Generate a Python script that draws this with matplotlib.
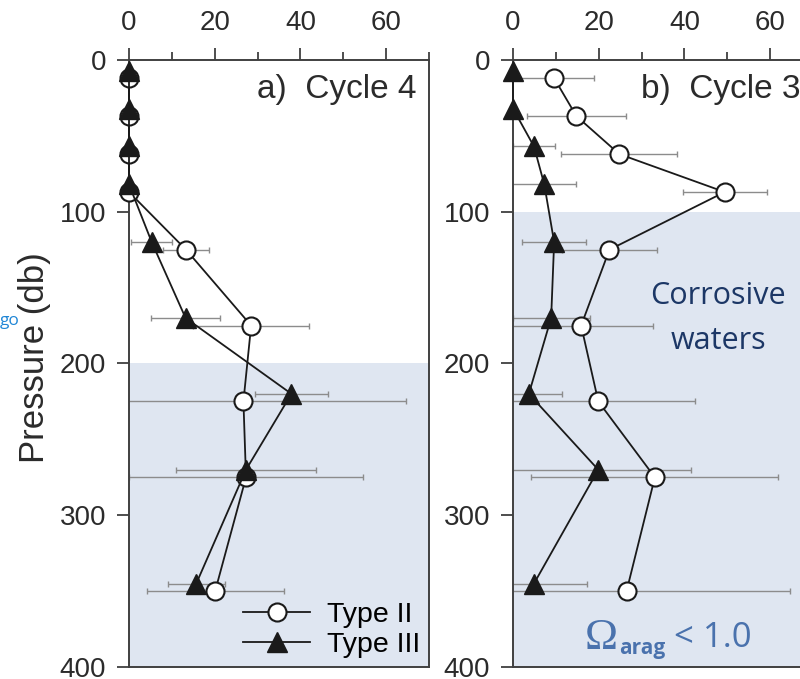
import numpy as np
import matplotlib
matplotlib.use("Agg")
import matplotlib.pyplot as plt
from matplotlib.ticker import MultipleLocator

# depths (db) of the two sample types
depth_ii = [12, 37, 62, 87, 125, 175, 225, 275, 350]
depth_iii = [7, 32, 57, 82, 120, 170, 220, 270, 345]

# panel a) Cycle 4
cycle4_ii = [0, 0, 0, 0, 13.3, 28.5, 26.7, 27.3, 20.1]
cycle4_ii_err = [0, 0, 0, 0, 5.4, 13.5, 38, 27.3, 16]
cycle4_iii = [0, 0, 0, 0, 5.3, 13.2, 37.9, 27.3, 15.7]
cycle4_iii_err = [0, 0, 0, 0, 4.8, 8, 8.5, 16.3, 6.7]

# panel b) Cycle 3
cycle3_ii = [9.6, 14.8, 24.8, 49.4, 22.5, 15.9, 19.9, 33.1, 26.5]
cycle3_ii_err = [9.2, 11.6, 13.5, 9.8, 11, 16.7, 22.5, 28.8, 38.2]
cycle3_iii = [0, 0, 4.9, 7.3, 9.6, 8.9, 3.7, 19.9, 4.9]
cycle3_iii_err = [0, 0, 5, 7.5, 7.5, 9, 7.8, 21.6, 12.4]

# top of the corrosive (shaded) layer for each panel
corrosive_top = [200, 100]
panel_titles = ["a)  Cycle 4", "b)  Cycle 3"]
x_ticks = [0, 20, 40, 60]
y_ticks = [0, 100, 200, 300, 400]

W, H = 800, 679
SPINE = "#404040"
SHADE = "#dfe6f1"
ERR = "#8c8c8c"
LINE = "#1a1a1a"

plt.rcParams["font.family"] = ["Liberation Sans", "DejaVu Sans"]

fig = plt.figure(figsize=(W / 100, H / 100), dpi=100)


def px_axes(left, top, right, bottom):
    return fig.add_axes([left / W, 1 - bottom / H, (right - left) / W, (bottom - top) / H])


def draw_panel(ax, ii, ii_err, iii, iii_err, shade_top, title):
    ax.set_xlim(0, 70)
    ax.set_ylim(400, 0)
    ax.axhspan(shade_top, 400, color=SHADE, lw=0, zorder=0)

    ax.errorbar(ii, depth_ii, xerr=ii_err, fmt="none", ecolor=ERR,
                elinewidth=1.0, capsize=2.5, capthick=1.0, zorder=1)
    ax.errorbar(iii, depth_iii, xerr=iii_err, fmt="none", ecolor=ERR,
                elinewidth=1.0, capsize=2.5, capthick=1.0, zorder=1)

    h2, = ax.plot(ii, depth_ii, color=LINE, lw=1.3, marker="o", ms=13,
                  mfc="white", mec=LINE, mew=1.5, zorder=3, label="Type II",
                  clip_on=False)
    h3, = ax.plot(iii, depth_iii, color=LINE, lw=1.3, marker="^", ms=15,
                  mfc=LINE, mec=LINE, mew=1.0, zorder=3, label="Type III",
                  clip_on=False)

    ax.xaxis.tick_top()
    ax.set_xticks(x_ticks)
    ax.xaxis.set_minor_locator(MultipleLocator(10))
    ax.set_yticks(y_ticks)
    ax.tick_params(axis="both", which="major", direction="out", length=8.6,
                   width=1.3, color=SPINE, labelsize=20, labelcolor="#2b2b2b",
                   pad=8)
    ax.tick_params(axis="x", which="major", pad=9)
    ax.tick_params(axis="x", which="minor", direction="out", length=5.8,
                   width=1.3, color=SPINE)
    for s in ax.spines.values():
        s.set_color(SPINE)
        s.set_linewidth(1.4)

    ax.text(0.957, 0.951, title, transform=ax.transAxes, ha="right",
            va="center", fontsize=24, color="#2b2b2b")
    return h2, h3


ax_a = px_axes(129, 60, 429, 667)
ax_b = px_axes(513, 60, 813, 667)

h2, h3 = draw_panel(ax_a, cycle4_ii, cycle4_ii_err, cycle4_iii, cycle4_iii_err,
                    corrosive_top[0], panel_titles[0])
draw_panel(ax_b, cycle3_ii, cycle3_ii_err, cycle3_iii, cycle3_iii_err,
           corrosive_top[1], panel_titles[1])

ax_a.legend(handles=[h2, h3], loc="lower right", bbox_to_anchor=(1.0, 0.0),
            frameon=False, fontsize=20.5, handlelength=2.35,
            handletextpad=0.6, labelspacing=0.15, borderaxespad=0.1,
            borderpad=0.2)

fig.text(35 / W, 1 - 358 / H, "Pressure (db)", rotation=90, ha="center",
         va="center", fontsize=25, color="#2b2b2b")

# annotations in panel b (positions in pixels of the figure)
navy = "#1c3766"
fig.text(718 / W, 1 - 296 / H, "Corrosive", ha="center", va="center",
         fontsize=22, color=navy, family=["Open Sans", "DejaVu Sans"])
fig.text(718 / W, 1 - 341 / H, "waters", ha="center", va="center",
         fontsize=22, color=navy, family=["Open Sans", "DejaVu Sans"])

omega_col = "#4a72ad"
fig.text(585 / W, 1 - 649 / H, "Ω", ha="left", va="baseline", fontsize=32,
         color=omega_col, family=["Liberation Serif", "DejaVu Serif"])
fig.text(619 / W, 1 - 654 / H, "arag", ha="left", va="baseline", fontsize=15,
         color=omega_col, fontweight="bold", family=["Open Sans", "DejaVu Sans"])
fig.text(674 / W, 1 - 647 / H, "< 1.0", ha="left", va="baseline", fontsize=25,
         color=omega_col, family=["Open Sans", "DejaVu Sans"])

# cut-off label from a neighbouring panel
fig.text(0, 1 - 325 / H, "go", ha="left", va="baseline", fontsize=12.5,
         color="#1f86d6", family=["Open Sans", "DejaVu Sans"])

fig.savefig("out.png", dpi=100)
